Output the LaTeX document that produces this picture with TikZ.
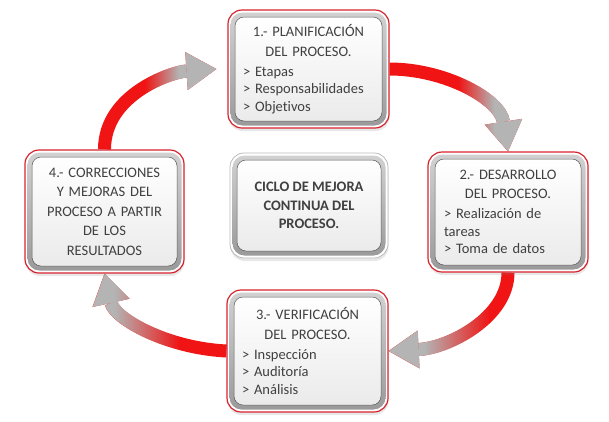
\documentclass[tikz,border=0pt]{standalone}
\usepackage{fontspec}
\setmainfont{Carlito}[Ligatures=NoCommon]
\usetikzlibrary{arrows.meta, fadings, shadows, backgrounds}

\definecolor{borderred}{RGB}{215,35,45}
\definecolor{arrowred}{RGB}{240,20,20}
\definecolor{arrowgray}{RGB}{180,180,180}
\definecolor{textgray}{RGB}{64,64,64}

% fadings for the red -> gray arrows (ramp 45bp wide starting at the origin)
\begin{tikzfadingfrompicture}[name=redtogray]
\fill[transparent!100] (-1000bp,-1000bp) rectangle (0bp,1000bp);
\shade[left color=transparent!100, right color=transparent!0] (0bp,-1000bp) rectangle (45bp,1000bp);
\fill[transparent!0] (45bp,-1000bp) rectangle (1000bp,1000bp);
\end{tikzfadingfrompicture}
\begin{tikzfadingfrompicture}[name=graytored]
\fill[transparent!0] (-1000bp,-1000bp) rectangle (-45bp,1000bp);
\shade[left color=transparent!0, right color=transparent!100] (-45bp,-1000bp) rectangle (0bp,1000bp);
\fill[transparent!100] (0bp,-1000bp) rectangle (1000bp,1000bp);
\end{tikzfadingfrompicture}

\tikzset{
  boxframe/.style={rectangle, rounded corners=14pt, fill=white, inner sep=0pt,
    drop shadow={shadow xshift=0.5pt, shadow yshift=-3pt, opacity=0.18},
    path picture={
      \shade[top color=gray!35, bottom color=gray!80, rounded corners=12pt]
        ([xshift=2.5pt,yshift=-2.5pt]path picture bounding box.north west) rectangle
        ([xshift=-2.5pt,yshift=2.5pt]path picture bounding box.south east);
      \shade[top color=white, bottom color=gray!16, draw=gray!70!black, line width=0.5pt, rounded corners=9pt]
        ([xshift=7pt,yshift=-7pt]path picture bounding box.north west) rectangle
        ([xshift=-7pt,yshift=7pt]path picture bounding box.south east);
    }},
  stagebox/.style={boxframe, draw=borderred, line width=1.2pt, align=left},
  centerbox/.style={boxframe, draw=gray!55, line width=0.8pt, align=center},
  cyclearrow/.style={line width=13pt, -{Triangle[width=38pt,length=30pt,line width=0pt 0]}}
}

\newcommand{\stagetitle}[1]{{\centering\fontsize{14.5}{19.5}\selectfont #1\par}\vspace{2.5pt}}
\newcommand{\cyclestep}[3]{%
  \draw[cyclearrow, arrowred] #3;
  \draw[cyclearrow, arrowgray, path fading=#1, fit fading=false, fading transform={#2}] #3;}

\begin{document}
\begin{tikzpicture}[x=1pt,y=-1pt,font=\fontsize{14.5}{17.5}\selectfont,text=textgray]
\useasboundingbox (0,0) rectangle (609,421);

% Text Node
\node[stagebox, minimum width=161pt, minimum height=118pt, text width=131pt] (plan) at (308.5,69)
  {\stagetitle{1.- PLANIFICACIÓN\\ DEL PROCESO.}> Etapas\\ > Responsabilidades\\ > Objetivos};
% Text Node
\node[stagebox, minimum width=160pt, minimum height=120pt, text width=128pt] (dev) at (508,212)
  {\stagetitle{2.- DESARROLLO\\ DEL PROCESO.}> Realización de\\ tareas\\ > Toma de datos};
% Text Node
\node[stagebox, minimum width=161pt, minimum height=122pt, text width=131pt] (check) at (307.5,351)
  {\stagetitle{3.- VERIFICACIÓN\\ DEL PROCESO.}> Inspección\\ > Auditoría\\ > Análisis};
% Text Node
\node[stagebox, minimum width=159pt, minimum height=123pt, text width=140pt, align=center,
  font=\fontsize{14.5}{19.5}\selectfont] (fix) at (104.5,211.5)
  {4.- CORRECCIONES\\ Y MEJORAS DEL\\ PROCESO A PARTIR\\ DE LOS\\ RESULTADOS};
% Text Node
\node[centerbox, minimum width=158pt, minimum height=105pt,
  font=\bfseries\fontsize{14.5}{18.5}\selectfont] (cycle) at (309,205.5)
  {CICLO DE MEJORA\\ CONTINUA DEL\\ PROCESO.};

%Curved Arrows
\begin{scope}[on background layer]
\cyclestep{redtogray}{shift={(458,0)}, xscale=0.8}
  {(plan.east) .. controls +(56,0) and +(-8,-52) .. (dev.north)}
\cyclestep{graytored}{shift={(490,0)}, xscale=1.45}
  {(dev.south) .. controls +(0,45) and +(60,-3) .. (check.east)}
\cyclestep{graytored}{shift={(180,0)}, xscale=1.45}
  {(check.west) .. controls +(-60,-3) and +(10,45) .. (fix.south)}
\cyclestep{redtogray}{shift={(145,0)}, xscale=0.75}
  {(fix.north) .. controls +(0,-55) and +(-45,3) .. ([xshift=-11pt]plan.west)}
\end{scope}

\end{tikzpicture}
\end{document}
